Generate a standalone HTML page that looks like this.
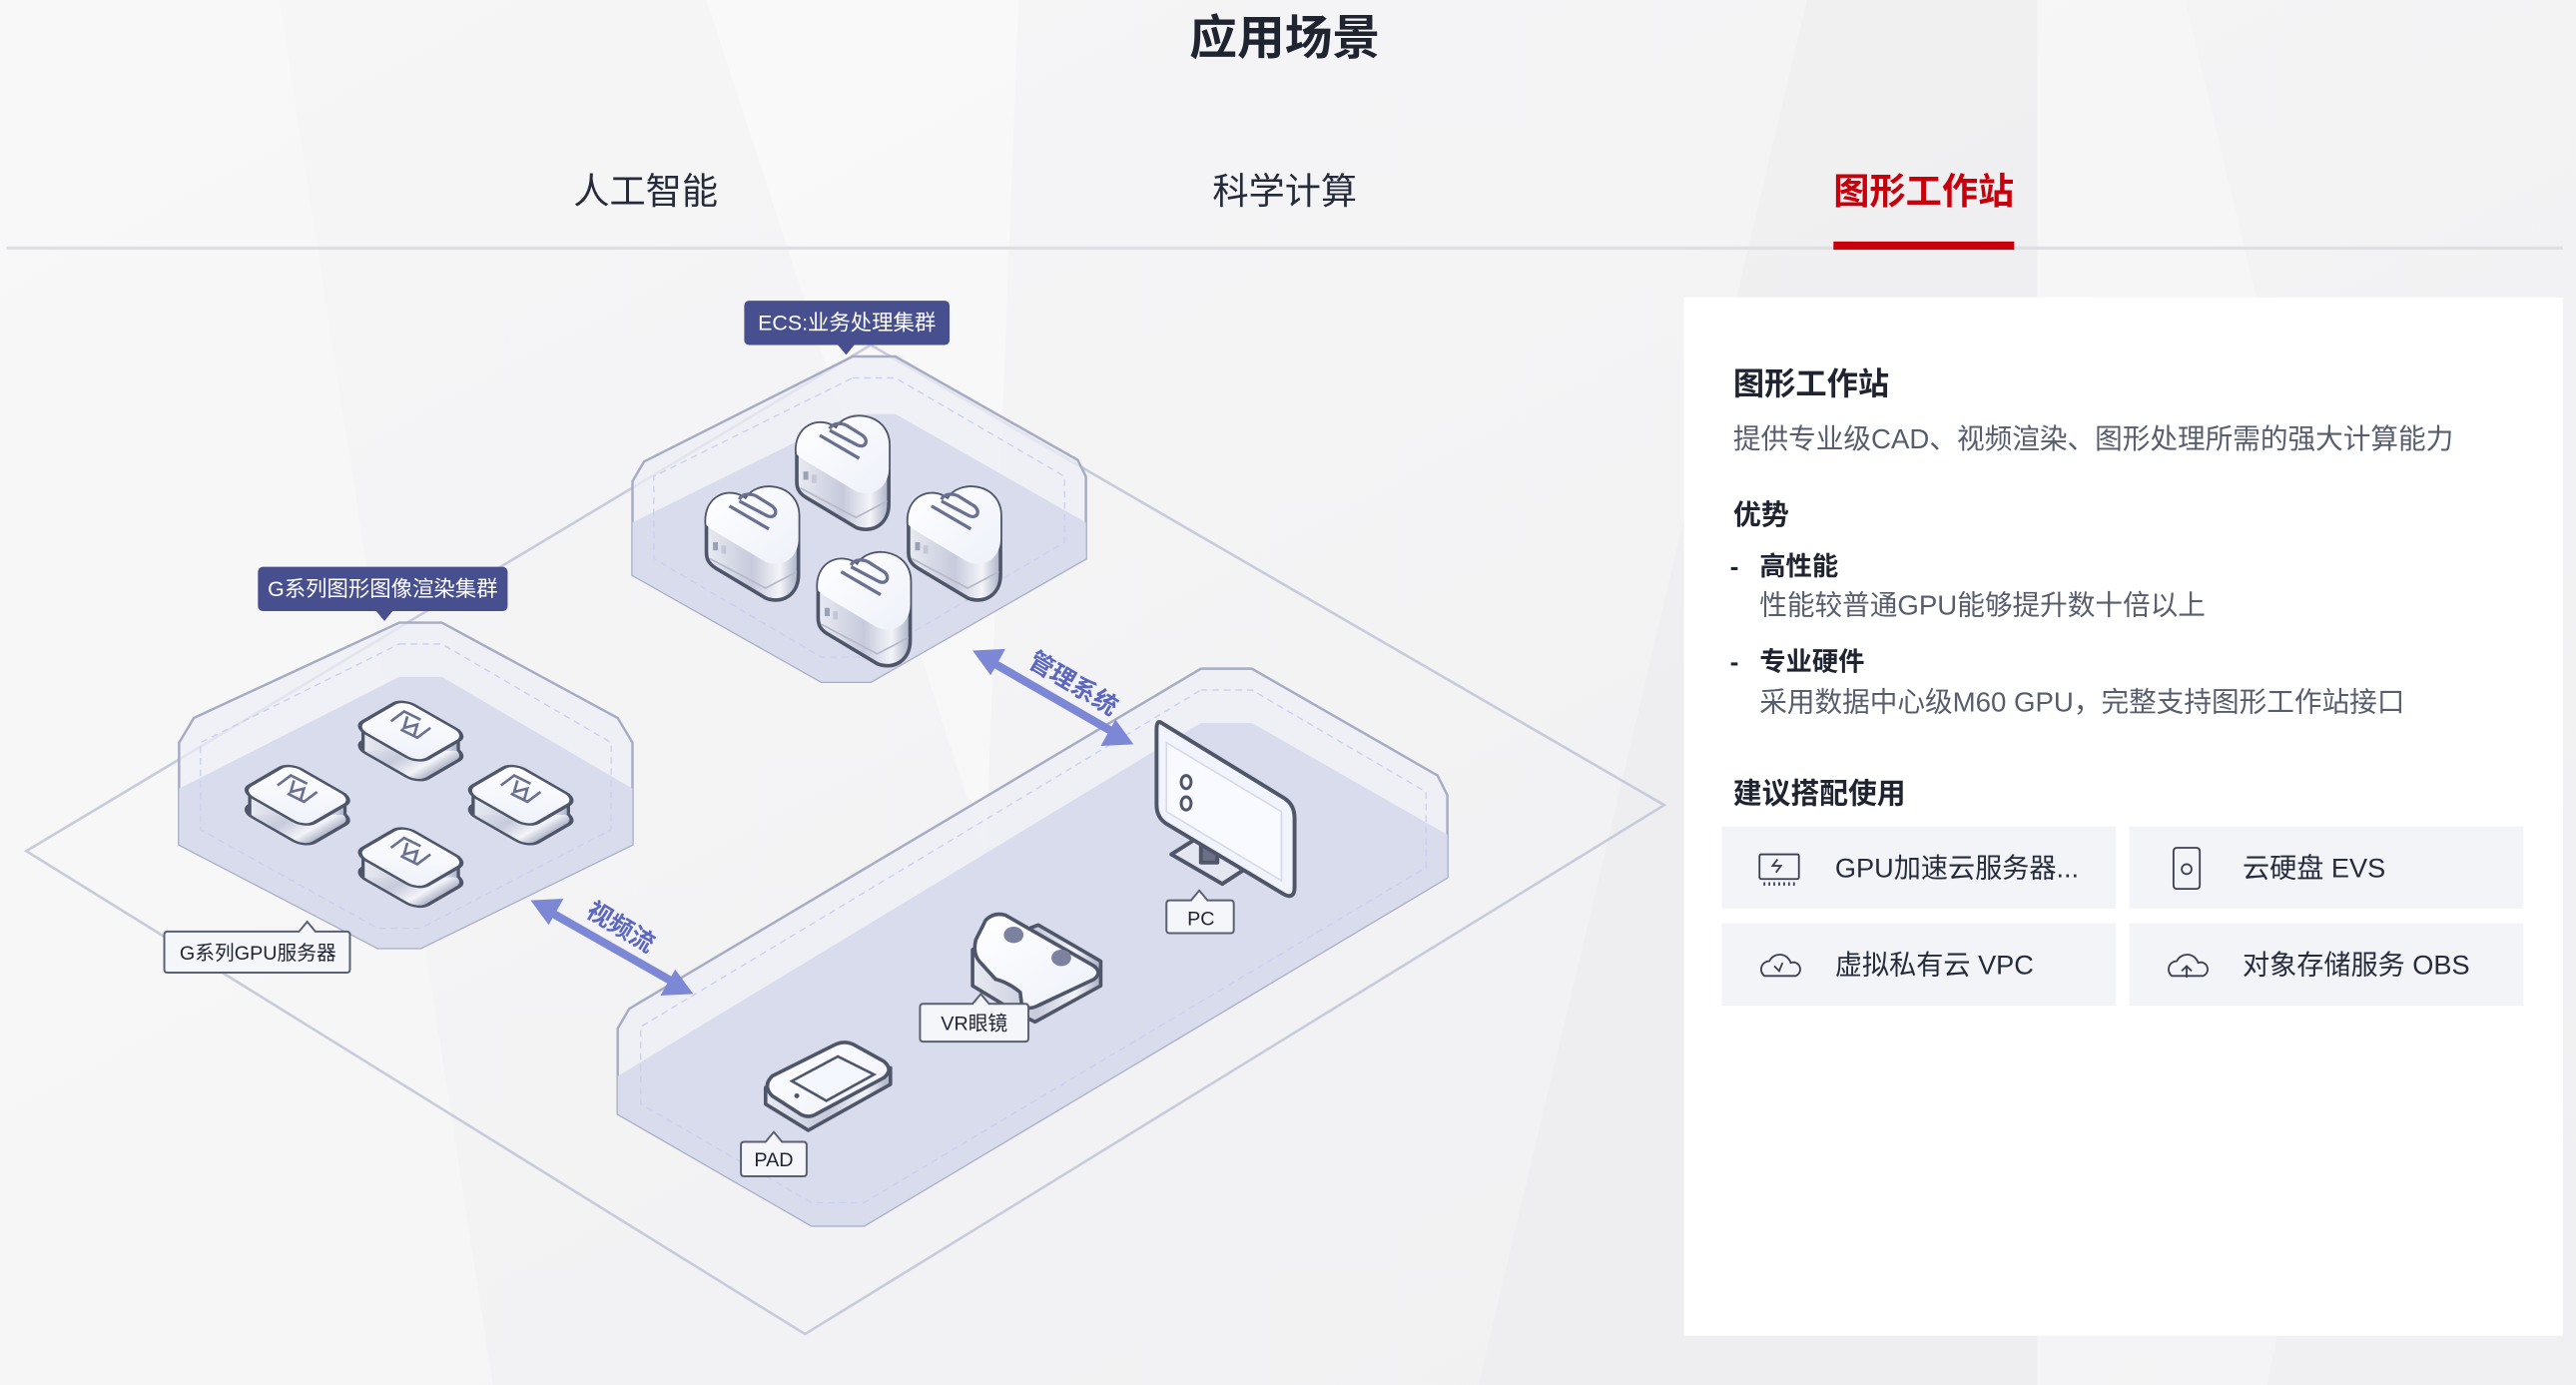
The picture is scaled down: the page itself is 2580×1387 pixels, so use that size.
<!DOCTYPE html>
<html><head><meta charset="utf-8"><style>
html,body{margin:0;padding:0;width:2580px;height:1387px;overflow:hidden;background:#f3f3f4}
svg{display:block}
text{font-family:"Liberation Sans","Noto Sans CJK SC",sans-serif}
</style></head><body>
<svg width="2580" height="1387" viewBox="0 0 1568 843" preserveAspectRatio="none" xmlns="http://www.w3.org/2000/svg">
<defs>
<linearGradient id="bg" x1="0" y1="0" x2="1" y2="1"><stop offset="0" stop-color="#f6f6f7"/><stop offset="1" stop-color="#f0f0f2"/></linearGradient>
<linearGradient id="side" x1="0" y1="0" x2="1" y2="0"><stop offset="0" stop-color="#e9ebf2"/><stop offset="0.5" stop-color="#c6cadb"/><stop offset="0.8" stop-color="#f3f4f8"/><stop offset="1" stop-color="#aab0c6"/></linearGradient>
<linearGradient id="top" x1="0" y1="0" x2="1" y2="1"><stop offset="0" stop-color="#ffffff"/><stop offset="1" stop-color="#eef1fa"/></linearGradient>
<g id="cloud">
 <path d="M-28,-8 C-30,-26 -14,-32 -4,-24 C2,-36 28,-34 28,-14 L28,22 C28,34 18,40 8,36 L-22,18 C-27,15 -28,12 -28,8 Z" fill="url(#side)" stroke="#50566a" stroke-width="2.2"/>
 <path d="M-28,-8 C-30,-26 -14,-32 -4,-24 C2,-36 28,-34 28,-14 L28,0 C28,12 18,18 8,14 L-22,-4 C-27,-7 -28,-9 -28,-8 Z" fill="url(#top)"/>
 <path d="M-26,12 L8,30 L27,20" fill="none" stroke="#b4b8c8" stroke-width="1"/>
 <path d="M-14,-20 L10,-6 M-8,-24 C-6,-28 0,-28 4,-25 L12,-20 C16,-17 14,-12 9,-14 L-8,-23" fill="none" stroke="#6a7090" stroke-width="2"/>
 <rect x="-24" y="2" width="3" height="5" fill="#9aa0b5"/><rect x="-19" y="4" width="3" height="5" fill="#c4c8d6"/>
</g>
<g id="gpu">
 <g transform="translate(0,12)"><rect x="-24" y="-24" width="48" height="48" rx="9" transform="matrix(0.82,0.47,-0.62,0.36,0,0)" fill="url(#side)" stroke="#50566a" stroke-width="2.5"/></g>
 <rect x="-29" y="-1" width="58" height="13" fill="url(#side)"/>
 <line x1="-29" y1="-1" x2="-29" y2="12" stroke="#50566a" stroke-width="2"/><line x1="29" y1="-1" x2="29" y2="12" stroke="#50566a" stroke-width="2"/>
 <rect x="-24" y="-24" width="48" height="48" rx="9" transform="matrix(0.82,0.47,-0.62,0.36,0,0)" fill="url(#top)" stroke="#50566a" stroke-width="2.5"/>
 <path d="M-12,-6 L-4,-12 L6,-7 M12,-2 L4,4 L-6,-1 M-2,-9 L-4,-2 L4,-4 L2,3" fill="none" stroke="#6a7090" stroke-width="1.6"/>
</g>
</defs>
<rect width="1568" height="843" fill="url(#bg)"/>
<polygon points="0,0 170,0 300,843 0,843" fill="#ffffff" opacity="0.25"/>
<polygon points="430,0 620,0 600,520" fill="#ffffff" opacity="0.4"/>
<polygon points="1100,0 1240,0 1240,843 900,843" fill="#e9e9ec" opacity="0.35"/>
<polygon points="1240,0 1330,0 1450,500 1380,843 1240,843" fill="#ffffff" opacity="0.25"/>

<!-- header -->
<text x="782" y="33" font-size="29" font-weight="bold" fill="#1f2430" text-anchor="middle">应用场景</text>
<text x="393" y="124" font-size="22" fill="#252b3a" text-anchor="middle">人工智能</text>
<text x="782" y="124" font-size="22" fill="#252b3a" text-anchor="middle">科学计算</text>
<text x="1171" y="124" font-size="22" font-weight="bold" fill="#c7000b" text-anchor="middle">图形工作站</text>
<rect x="4" y="150" width="1556" height="2" fill="#dfdfe3"/>
<rect x="1116" y="147" width="110" height="5" fill="#c7000b"/>

<!-- big diamond -->
<polygon points="16,518 530,210 1013,490 490,812" fill="none" stroke="#c8cbdc" stroke-width="1.6"/>

<!-- ECS platform -->
<polygon points="519,217 545,217 656,280 661,290 661,340 530,415 500,415 385,350 385,293 392,281" fill="#eceef5" fill-opacity="0.7" stroke="#a7acc4" stroke-width="1.5"/>
<polygon points="519,252 545,252 661,318 661,340 530,415 500,415 385,350 385,318" fill="#d9dcec"/>
<polygon points="519,230 545,230 648,290 648,330 530,400 500,400 398,340 398,290" fill="none" stroke="#c9cfee" stroke-dasharray="4,3" stroke-width="0.8"/>
<use href="#cloud" x="513" y="285"/>
<use href="#cloud" x="458" y="328"/>
<use href="#cloud" x="581" y="328"/>
<use href="#cloud" x="526" y="368"/>

<!-- G platform -->
<polygon points="243,379 269,379 376,437 385,452 385,514 256,577 230,577 109,514 109,452 118,437" fill="#eceef5" fill-opacity="0.7" stroke="#a7acc4" stroke-width="1.5"/>
<polygon points="243,412 269,412 385,480 385,514 256,577 230,577 109,514 109,480" fill="#d9dcec"/>
<polygon points="243,392 269,392 372,452 372,505 256,565 230,565 122,505 122,452" fill="none" stroke="#c9cfee" stroke-dasharray="4,3" stroke-width="0.8"/>
<use href="#gpu" x="250" y="445"/>
<use href="#gpu" x="181" y="484"/>
<use href="#gpu" x="317" y="484"/>
<use href="#gpu" x="250" y="522"/>

<!-- device platform -->
<polygon points="731,407 762,407 875,472 881,484 881,534 526,746 494,746 376,678 376,626 383,614" fill="#eceef5" fill-opacity="0.7" stroke="#a7acc4" stroke-width="1.5"/>
<polygon points="731,440 762,440 881,508 881,534 526,746 494,746 376,678 376,655" fill="#d9dcec"/>
<polygon points="731,420 762,420 868,482 868,528 526,732 494,732 390,672 390,625" fill="none" stroke="#c9cfee" stroke-dasharray="4,3" stroke-width="0.8"/>

<!-- arrows -->
<g stroke="#7c88d6" stroke-width="5" fill="#7c88d6">
<line x1="602" y1="402" x2="680" y2="447"/>
<line x1="333" y1="554" x2="412" y2="599"/>
</g>
<g fill="#7c88d6">
<polygon points="592,396 612,395 603,411"/><polygon points="690,453 670,454 679,438"/>
<polygon points="323,548 343,547 334,563"/><polygon points="422,605 402,606 411,590"/>
</g>
<text x="0" y="0" font-size="15" fill="#5a66c0" font-weight="bold" transform="translate(625,405) rotate(31)">管理系统</text>
<text x="0" y="0" font-size="15" fill="#5a66c0" font-weight="bold" transform="translate(356,557) rotate(31)">视频流</text>

<!-- PC -->
<g stroke="#50566a" stroke-width="2.4" stroke-linejoin="round">
<polygon points="713,520 740,503 770,521 744,538" fill="#e4e7f2"/>
<rect x="731" y="505" width="10" height="20" fill="#6b7086"/>
<path d="M707,440 L782,486 Q788,490 788,498 L788,540 Q788,548 781,544 L711,502 Q704,498 704,490 L704,444 Q704,438 707,440 Z" fill="#f1f4fc"/>
</g>
<path d="M710,452 L780,494 L780,536 L710,494 Z" fill="#f8faff" stroke="#d6dae8" stroke-width="1"/>
<ellipse cx="722" cy="476" rx="3" ry="4" fill="none" stroke="#50566a" stroke-width="1.8"/>
<ellipse cx="722" cy="489" rx="3" ry="4" fill="none" stroke="#50566a" stroke-width="1.8"/>

<!-- VR -->
<g stroke="#50566a" stroke-width="2.2" stroke-linejoin="round">
<path d="M592,578 L592,600 L620,617 L630,622 L670,600 L670,585 L632,563 Z" fill="url(#side)"/>
<path d="M600,560 Q605,555 612,557 L666,588 Q671,592 666,596 L632,612 Q626,615 622,612 L621,604 Q614,598 606,596 L596,585 Q592,580 594,572 Z" fill="url(#top)"/>
</g>
<ellipse cx="617" cy="569" rx="6" ry="5" fill="#7d81a0"/>
<ellipse cx="646" cy="583" rx="6" ry="5" fill="#7d81a0"/>

<!-- PAD -->
<g stroke="#50566a" stroke-width="2.2" stroke-linejoin="round">
<path d="M466,662 L466,672 L492,688 L542,660 L542,650 Z" fill="url(#side)"/>
<path d="M470,655 L508,636 Q514,633 520,636 L538,646 Q544,651 538,656 L497,678 Q492,681 487,678 L470,667 Q464,661 470,655 Z" fill="url(#top)"/>
</g>
<path d="M482,658 L510,643 L532,654 L503,670 Z" fill="#f5f7ff" stroke="#50566a" stroke-width="1.6"/>
<circle cx="485" cy="667" r="1.5" fill="#50566a"/>

<!-- labels -->
<rect x="453" y="183" width="125" height="27" rx="3" fill="#474f8e"/>
<polygon points="510,210 520,210 515,216" fill="#474f8e"/>
<text x="515.5" y="201" font-size="13" fill="#fff" text-anchor="middle">ECS:业务处理集群</text>
<rect x="157" y="345" width="152" height="27" rx="3" fill="#474f8e"/>
<polygon points="229,372 239,372 234,378" fill="#474f8e"/>
<text x="233" y="363" font-size="13" fill="#fff" text-anchor="middle">G系列图形图像渲染集群</text>

<g fill="#f5f6fa" stroke="#5a5f72" stroke-width="1.2">
<path d="M102,567 L182,567 L187,561 L192,567 L211,567 Q213,567 213,569 L213,590 Q213,592 211,592 L102,592 Q100,592 100,590 L100,569 Q100,567 102,567 Z"/>
<path d="M712,548 L725,548 L730,542 L735,548 L749,548 Q751,548 751,550 L751,566 Q751,568 749,568 L712,568 Q710,568 710,566 L710,550 Q710,548 712,548 Z"/>
<path d="M562,611 L592,611 L597,605 L602,611 L624,611 Q626,611 626,613 L626,632 Q626,634 624,634 L562,634 Q560,634 560,632 L560,613 Q560,611 562,611 Z"/>
<path d="M453,695 L466,695 L471,689 L476,695 L489,695 Q491,695 491,697 L491,714 Q491,716 489,716 L453,716 Q451,716 451,714 L451,697 Q451,695 453,695 Z"/>
</g>
<g font-size="12" fill="#1f2430" text-anchor="middle">
<text x="157" y="584">G系列GPU服务器</text>
<text x="731" y="563">PC</text>
<text x="593" y="627">VR眼镜</text>
<text x="471" y="710">PAD</text>
</g>

<!-- right card -->
<rect x="1025" y="181" width="535" height="632" fill="#ffffff"/>
<text x="1055" y="240" font-size="19" font-weight="bold" fill="#1f2430">图形工作站</text>
<text x="1055" y="273" font-size="16.8" fill="#575d6c">提供专业级CAD、视频渲染、图形处理所需的强大计算能力</text>
<text x="1055" y="319" font-size="17" font-weight="bold" fill="#1f2430">优势</text>
<text x="1053" y="350" font-size="16" font-weight="bold" fill="#1f2430">-</text>
<text x="1071" y="350" font-size="16" font-weight="bold" fill="#1f2430">高性能</text>
<text x="1071" y="374" font-size="16.8" fill="#575d6c">性能较普通GPU能够提升数十倍以上</text>
<text x="1053" y="408" font-size="16" font-weight="bold" fill="#1f2430">-</text>
<text x="1071" y="408" font-size="16" font-weight="bold" fill="#1f2430">专业硬件</text>
<text x="1071" y="433" font-size="16.8" fill="#575d6c">采用数据中心级M60 GPU，完整支持图形工作站接口</text>
<text x="1055" y="489" font-size="17.5" font-weight="bold" fill="#1f2430">建议搭配使用</text>
<rect x="1048" y="503" width="240" height="50" fill="#f3f4f7"/>
<rect x="1296" y="503" width="240" height="50" fill="#f3f4f7"/>
<rect x="1048" y="562" width="240" height="50" fill="#f3f4f7"/>
<rect x="1296" y="562" width="240" height="50" fill="#f3f4f7"/>
<g font-size="16.5" fill="#252b3a">
<text x="1117" y="534">GPU加速云服务器...</text>
<text x="1365" y="534">云硬盘 EVS</text>
<text x="1117" y="593">虚拟私有云 VPC</text>
<text x="1365" y="593">对象存储服务 OBS</text>
</g>
<g fill="none" stroke="#3a3f52" stroke-width="1.1">
<rect x="1071" y="520" width="24" height="15" rx="1"/>
<path d="M1074,537 v2 M1077,537 v2 M1080,537 v2 M1083,537 v2 M1086,537 v2 M1089,537 v2 M1092,537 v2"/>
<path d="M1082,523 l-3,4 h5 l-3,4"/>
<rect x="1323" y="516" width="16" height="25" rx="2"/>
<circle cx="1331" cy="529" r="3"/>
<path d="M1074,594 a5,5 0 0 1 3,-9 a7,7 0 0 1 13,1 a4,4 0 0 1 3,8 Z"/>
<path d="M1080,588 l3,3 l2,-5"/>
<path d="M1322,594 a5,5 0 0 1 3,-9 a7,7 0 0 1 13,1 a4,4 0 0 1 3,8 Z"/>
<path d="M1331,595 v-7 m-3,3 l3,-3 l3,3"/>
</g>
</svg>
</body></html>
